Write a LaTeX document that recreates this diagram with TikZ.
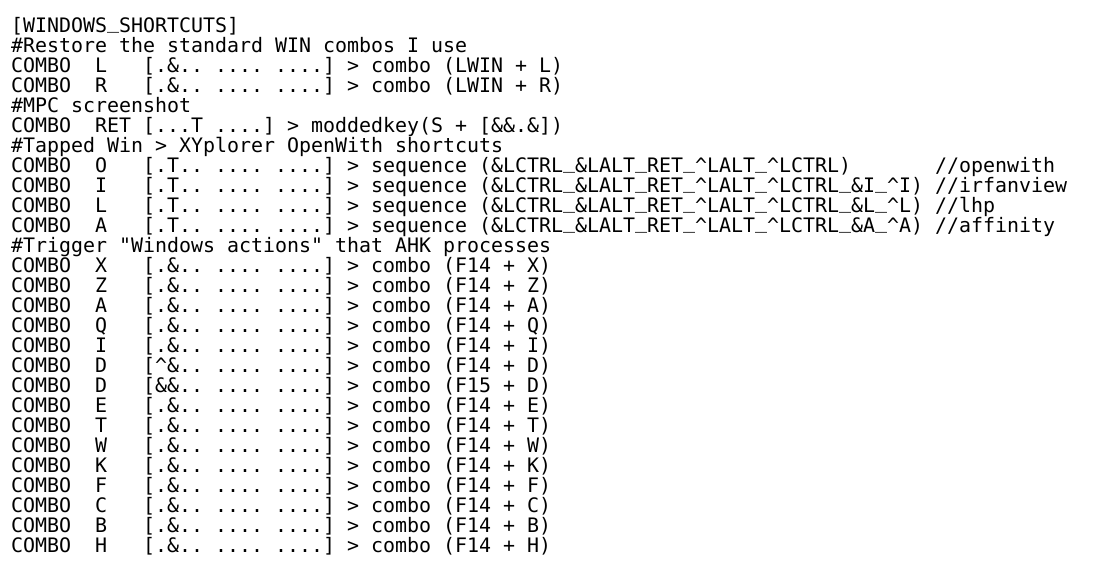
\documentclass[tikz,border=0pt]{standalone}
\usepackage{fontspec}
\newfontfamily\cfgmono{DejaVu Sans Mono}
\newcommand\cfgup{\textasciicircum}
\newcommand\cfgus{\raisebox{0.21em}{\_}}
\frenchspacing

\begin{document}
\begin{tikzpicture}[x=1pt,y=1pt]

      \useasboundingbox (0,0) rectangle (1108,583);

      \begin{scope}[every node/.style={anchor=base west,inner sep=0pt,
          font=\cfgmono\fontsize{19.93pt}{20pt}\selectfont\frenchspacing}]
        \node (title)  at (11,550) {[WINDOWS\cfgus SHORTCUTS]};
        \node (cmtwin) at (11,530) {\#Restore the standard WIN combos I use};
        \node (winL)   at (11,510) {COMBO~~L~~~[.\&.. .... ....] > combo (LWIN + L)};
        \node (winR)   at (11,490) {COMBO~~R~~~[.\&.. .... ....] > combo (LWIN + R)};
        \node (cmtmpc) at (11,470) {\#MPC screenshot};
        \node (mpcret) at (11,450) {COMBO~~RET [...T ....] > moddedkey(S + [\&\&.\&])};
        \node (cmttap) at (11,430) {\#Tapped Win > XYplorer OpenWith shortcuts};
        \node (tapO)   at (11,410) {COMBO~~O~~~[.T.. .... ....] > sequence (\&LCTRL\cfgus\&LALT\cfgus RET\cfgus\cfgup LALT\cfgus\cfgup LCTRL)~~~~~~~//openwith};
        \node (tapI)   at (11,390) {COMBO~~I~~~[.T.. .... ....] > sequence (\&LCTRL\cfgus\&LALT\cfgus RET\cfgus\cfgup LALT\cfgus\cfgup LCTRL\cfgus\&I\cfgus\cfgup I) //irfanview};
        \node (tapL)   at (11,370) {COMBO~~L~~~[.T.. .... ....] > sequence (\&LCTRL\cfgus\&LALT\cfgus RET\cfgus\cfgup LALT\cfgus\cfgup LCTRL\cfgus\&L\cfgus\cfgup L) //lhp};
        \node (tapA)   at (11,350) {COMBO~~A~~~[.T.. .... ....] > sequence (\&LCTRL\cfgus\&LALT\cfgus RET\cfgus\cfgup LALT\cfgus\cfgup LCTRL\cfgus\&A\cfgus\cfgup A) //affinity};
        \node (cmtahk) at (11,330) {\#Trigger "Windows actions" that AHK processes};
        \node (ahkX)   at (11,310) {COMBO~~X~~~[.\&.. .... ....] > combo (F14 + X)};
        \node (ahkZ)   at (11,290) {COMBO~~Z~~~[.\&.. .... ....] > combo (F14 + Z)};
        \node (ahkA)   at (11,270) {COMBO~~A~~~[.\&.. .... ....] > combo (F14 + A)};
        \node (ahkQ)   at (11,250) {COMBO~~Q~~~[.\&.. .... ....] > combo (F14 + Q)};
        \node (ahkI)   at (11,230) {COMBO~~I~~~[.\&.. .... ....] > combo (F14 + I)};
        \node (ahkD)   at (11,210) {COMBO~~D~~~[\cfgup\&.. .... ....] > combo (F14 + D)};
        \node (ahkDD)  at (11,190) {COMBO~~D~~~[\&\&.. .... ....] > combo (F15 + D)};
        \node (ahkE)   at (11,170) {COMBO~~E~~~[.\&.. .... ....] > combo (F14 + E)};
        \node (ahkT)   at (11,150) {COMBO~~T~~~[.\&.. .... ....] > combo (F14 + T)};
        \node (ahkW)   at (11,130) {COMBO~~W~~~[.\&.. .... ....] > combo (F14 + W)};
        \node (ahkK)   at (11,110) {COMBO~~K~~~[.\&.. .... ....] > combo (F14 + K)};
        \node (ahkF)   at (11,90)  {COMBO~~F~~~[.\&.. .... ....] > combo (F14 + F)};
        \node (ahkC)   at (11,70)  {COMBO~~C~~~[.\&.. .... ....] > combo (F14 + C)};
        \node (ahkB)   at (11,50)  {COMBO~~B~~~[.\&.. .... ....] > combo (F14 + B)};
        \node (ahkH)   at (11,30)  {COMBO~~H~~~[.\&.. .... ....] > combo (F14 + H)};
      \end{scope}

    \end{tikzpicture}
\end{document}
